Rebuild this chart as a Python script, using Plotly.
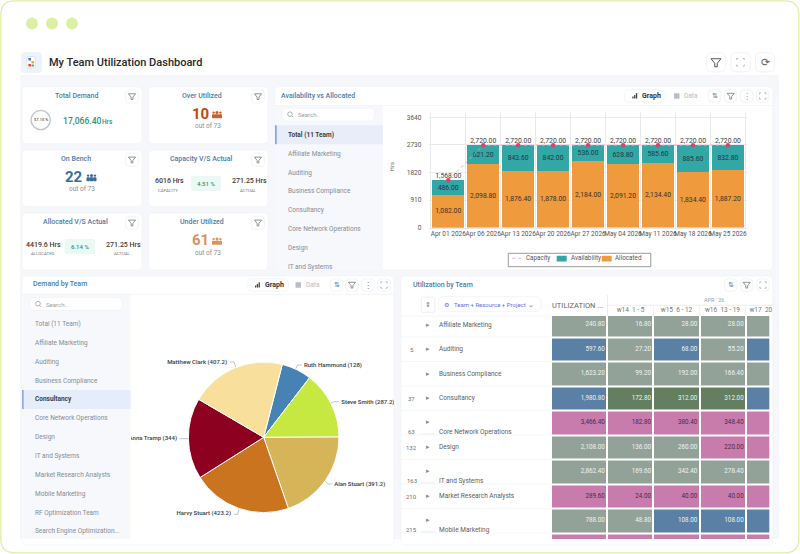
import plotly.graph_objects as go

# ---------- data ----------
week_starts = ["Apr 01 2026", "Apr 06 2026", "Apr 13 2026", "Apr 20 2026", "Apr 27 2026",
               "May 04 2026", "May 11 2026", "May 18 2026", "May 25 2026"]
capacity = [1568, 2720, 2720, 2720, 2720, 2720, 2720, 2720, 2720]
availability = [486.00, 621.20, 843.60, 842.00, 536.00, 628.80, 585.60, 885.60, 832.80]
allocated = [1082.00, 2098.80, 1876.40, 1878.00, 2184.00, 2091.20, 2134.40, 1834.40, 1887.20]
y_ticks = [0, 910, 1820, 2730, 3640]

list_top = ["Total (11 Team)", "Affiliate Marketing", "Auditing", "Business Compliance", "Consultancy",
            "Core Network Operations", "Design", "IT and Systems"]
list_demand = ["Total (11 Team)", "Affiliate Marketing", "Auditing", "Business Compliance", "Consultancy",
               "Core Network Operations", "Design", "IT and Systems", "Market Research Analysts",
               "Mobile Marketing", "RF Optimization Team", "Search Engine Optimization..."]

pie_names = ["Ruth Hammond", "Steve Smith", "Alan Stuart", "Harvy Stuart", "Anna Tramp", "Matthew Clark"]
pie_values = [128, 287.2, 391.2, 423.2, 344, 407.2]
pie_colors = ["#4682B4", "#C6E941", "#D5B557", "#CB7420", "#8E0020", "#F8E09C"]

util_teams = ["Affiliate Marketing", "Auditing", "Business Compliance", "Consultancy", "Core Network Operations",
              "Design", "IT and Systems", "Market Research Analysts", "Mobile Marketing", ""]
util_counts = ["", "5", "", "37", "63", "132", "163", "210", "215", ""]
util_total = [240.80, 597.60, 1623.20, 1980.80, 3466.40, 2108.00, 2862.40, 289.60, 788.00, None]
util_w14 = [16.80, 27.20, 99.20, 172.80, 182.80, 136.00, 169.60, 24.00, 48.80, None]
util_w15 = [28.00, 68.00, 192.00, 312.00, 380.40, 260.00, 342.40, 40.00, 108.00, None]
util_w16 = [28.00, 55.20, 166.40, 312.00, 348.40, 220.00, 278.40, 40.00, 108.00, None]
util_w17 = [28.00, 55.20, 166.40, 312.00, 348.40, 220.00, 278.40, 40.00, 108.00, None]
# 0 grey, 1 blue, 2 green, 3 pink
band_total = [0, 1, 0, 1, 3, 0, 0, 3, 0, 3]
band_w14 = [0, 0, 0, 2, 3, 0, 0, 3, 0, 3]
band_w15 = [0, 1, 0, 2, 3, 0, 0, 3, 1, 3]
band_w16 = [0, 0, 0, 2, 3, 3, 0, 3, 1, 3]
band_w17 = [0, 1, 0, 1, 3, 3, 0, 3, 1, 3]
week_heads = ["w14  1 - 5", "w15  6 - 12", "w16  13 - 19", "w17  20 - 26"]

# ---------- page helpers (pixel -> paper) ----------
W, H = 800, 554
FONT = "Roboto, 'Noto Sans', sans-serif"
X = lambda x: x / W
Y = lambda y: 1 - y / H
shapes, notes = [], []


def P(x, y):
    return f"{X(x):.5f},{Y(y):.5f}"


def rrect(x0, y0, x1, y1, r=4, fill="white", line=None, lw=0.8, dash=None):
    d = (f"M{P(x0 + r, y0)} L{P(x1 - r, y0)} Q{P(x1, y0)} {P(x1, y0 + r)} L{P(x1, y1 - r)} "
         f"Q{P(x1, y1)} {P(x1 - r, y1)} L{P(x0 + r, y1)} Q{P(x0, y1)} {P(x0, y1 - r)} L{P(x0, y0 + r)} "
         f"Q{P(x0, y0)} {P(x0 + r, y0)} Z")
    s = dict(type="path", xref="paper", yref="paper", path=d, layer="below",
             fillcolor=fill if fill else "rgba(0,0,0,0)",
             line=dict(color=line if line else "rgba(0,0,0,0)", width=lw if line else 0))
    if dash:
        s["line"]["dash"] = dash
    shapes.append(s)


def poly(pts, fill=None, line=None, lw=0.8, close=True, dash=None):
    d = "M" + " L".join(P(*p) for p in pts) + (" Z" if close else "")
    s = dict(type="path", xref="paper", yref="paper", path=d, layer="below",
             fillcolor=fill if fill else "rgba(0,0,0,0)",
             line=dict(color=line if line else "rgba(0,0,0,0)", width=lw if line else 0))
    if dash:
        s["line"]["dash"] = dash
    shapes.append(s)


def circ(cx, cy, r, fill=None, line=None, lw=0.8):
    shapes.append(dict(type="circle", xref="paper", yref="paper", layer="below",
                       x0=X(cx - r), x1=X(cx + r), y0=Y(cy + r), y1=Y(cy - r),
                       fillcolor=fill if fill else "rgba(0,0,0,0)",
                       line=dict(color=line if line else "rgba(0,0,0,0)", width=lw if line else 0)))


def T(x, y, text, size=7, color="#555", anchor="center", weight=400, family=FONT, angle=0):
    notes.append(dict(x=X(x), y=Y(y), xref="paper", yref="paper", text=text, showarrow=False,
                      xanchor=anchor, yanchor="middle", borderpad=0, textangle=angle,
                      font=dict(size=size, color=color, family=family, weight=weight)))


def funnel(cx, cy, s=1.0, color="#777", lw=0.8):
    poly([(cx - 4 * s, cy - 3 * s), (cx + 4 * s, cy - 3 * s), (cx + 1 * s, cy + 0.6 * s),
          (cx + 1 * s, cy + 3.4 * s), (cx - 1 * s, cy + 3.4 * s), (cx - 1 * s, cy + 0.6 * s)], line=color, lw=lw)


def btn(cx, cy, size=13, r=4):
    rrect(cx - size / 2, cy - size / 2, cx + size / 2, cy + size / 2, r=r, fill="white", line="#ECEEF2", lw=0.7)


def expand(cx, cy, a=3.2, color="#9A9FA8"):
    for sx, sy in ((-1, -1), (1, -1), (1, 1), (-1, 1)):
        poly([(cx + sx * a, cy + sy * (a - 1.5)), (cx + sx * a, cy + sy * a), (cx + sx * (a - 1.5), cy + sy * a)],
             line=color, lw=0.7, close=False)


def people(cx, cy, color, s=1.0):
    for dx, r in ((-3.4, 1.2), (3.4, 1.2), (0, 1.5)):
        circ(cx + dx * s, cy - 2.4 * s, r * s, fill=color)
    for dx, hw in ((-3.4, 1.6), (3.4, 1.6), (0, 2.2)):
        rrect(cx + (dx - hw) * s, cy - 0.7 * s, cx + (dx + hw) * s, cy + 3.2 * s, r=0.8 * s, fill=color)


def search(x0, y0, x1, y1):
    rrect(x0, y0, x1, y1, r=5, fill="white", line="#EEF0F5", lw=0.7)
    circ(x0 + 8, (y0 + y1) / 2 - 0.3, 2.3, line="#8C929C", lw=0.7)
    poly([(x0 + 9.7, (y0 + y1) / 2 + 1.4), (x0 + 11.2, (y0 + y1) / 2 + 2.9)], line="#8C929C", lw=0.7, close=False)
    T(x0 + 15, (y0 + y1) / 2, "Search..", 6, "#9AA0AA", "left")


def view_tabs(x0, cy, data_x):
    rrect(x0, cy - 6.2, x0 + 41.5, cy + 6.2, r=6, fill="white", line="#EDEFF4", lw=0.7)
    for i, h in enumerate((2.0, 3.6, 5.2)):
        rrect(x0 + 8 + i * 1.8, cy + 2.5 - h, x0 + 9.3 + i * 1.8, cy + 2.5, r=0.2, fill="#444")
    T(x0 + 16.5, cy, "Graph", 7, "#333", "left", 700)
    rrect(data_x, cy - 2.8, data_x + 5.5, cy + 2.8, r=0.5, fill="#B8BEC8")
    T(data_x + 9, cy, "Data", 6.5, "#B5BAC3", "left")


def list_panel(names, x0, x1, y0, pitch, selected, bar_color, band, weight=400):
    for i, n in enumerate(names):
        yy = y0 + i * pitch
        if i == selected:
            rrect(x0, yy - 9.5, x1, yy + 9.5, r=0.01, fill=band)
            poly([(x0 + 0.5, yy - 9.5), (x0 + 0.5, yy + 9.5)], line=bar_color, lw=1.1, close=False)
        T(x0 + 11.5, yy, n, 6.5, "#3C3F45" if i == selected else "#878C95", "left", 700 if i == selected else 400)


# ---------- page chrome ----------
rrect(0.8, 0.8, 798.8, 552.8, r=14, fill="white", line="#DFF0A9", lw=1.3)
for cx in (32, 52, 72):
    circ(cx, 23.5, 6, fill="#DCEFA3")
rrect(21, 52, 42, 73, r=4, fill="#EEF3FB")
rrect(27, 56.5, 35, 68, r=0.5, fill="#FFFFFF", line="#C9CED6", lw=0.5)
rrect(28.5, 58, 31, 60.5, r=0.2, fill="#3A76C4")
rrect(31.5, 61, 34, 63.5, r=0.2, fill="#E6B422")
rrect(28.5, 64, 31, 66.5, r=0.2, fill="#D9483B")
rrect(31.5, 64.5, 34, 66.5, r=0.2, fill="#5FA85A")
T(47.5, 62.5, "My Team Utilization Dashboard", 11, "#26282C", "left", 500)
for cx in (716, 740.5, 765):
    btn(cx, 62.3, 19, 5)
funnel(716, 62.5, 1.25, "#555", 1)
expand(740.5, 62.3, 3.8)
T(765, 62, "⟳", 11, "#666", family="DejaVu Sans")
rrect(20, 75, 779, 539, r=0.01, fill="#F5F7FA")

# ---------- KPI cards ----------
HEAD = "#4C7CA8"
TEAL = "#2F8F84"


def card(x0, y0, x1, y1, title, tx):
    rrect(x0, y0, x1, y1, r=5, fill="white", line="#F0F2F6", lw=0.6)
    T(tx, y0 + 8.8, title, 7, HEAD, "center", 500)
    btn(x1 - 10, y0 + 9.8, 13, 4)
    funnel(x1 - 10, y0 + 9.8, 0.9)


card(22, 86.7, 142, 143.7, "Total Demand", 76)
circ(40.7, 120, 9.6, line="#BFC4C8", lw=1.4)
T(40.7, 120, "57.15 %", 4, "#555", weight=500)
T(61.5, 121, "17,066.40", 8.6, TEAL, "left", 500)
T(101.5, 121.5, "Hrs", 6.5, TEAL, "left", 500)

card(148.5, 86.7, 268, 143.7, "Over Utilized", 201.5)
T(200, 114, "10", 15, "#C8450D", "center", 700)
people(217, 115, "#C8602A")
T(208, 126, "out of 73", 6.5, "#8C9096")

card(22, 150, 142, 206.5, "On Bench", 75.5)
T(74, 177, "22", 15, "#3B6D94", "center", 700)
people(91.5, 178, "#3B6D94")
T(82, 189, "out of 73", 6.5, "#8C9096")

card(148.5, 150, 268, 206.5, "Capacity V/S Actual", 201.5)
T(169.5, 181, "6016 Hrs", 7, "#3A3C40", weight=500)
T(168, 190, "CAPACITY", 4.3, "#777")
rrect(191, 176, 221, 191, r=2, fill="#EAF9F3")
T(206, 183.5, "4.51 %", 6, TEAL, weight=500)
T(249.5, 181, "271.25 Hrs", 7, "#3A3C40", weight=500)
T(248.5, 190, "ACTUAL", 4.3, "#777")

card(22, 213, 142, 270, "Allocated V/S Actual", 75.5)
T(43.7, 244.7, "4419.6 Hrs", 7, "#3A3C40", weight=500)
T(42.5, 253, "ALLOCATED", 4.3, "#777")
rrect(64.5, 239, 95, 254, r=2, fill="#EAF9F3")
T(79.7, 246.5, "6.14 %", 6, TEAL, weight=500)
T(123.5, 244.7, "271.25 Hrs", 7, "#3A3C40", weight=500)
T(122.5, 253, "ACTUAL", 4.3, "#777")

card(148.5, 213, 268, 270, "Under Utilized", 201.5)
T(200, 240.5, "61", 15, "#DD9358", "center", 700)
people(217, 241.5, "#DD9358")
T(208, 253, "out of 73", 6.5, "#8C9096")

# ---------- Availability panel ----------
rrect(275, 86.5, 772.7, 270, r=5, fill="white", line="#F0F2F6", lw=0.6)
rrect(275.4, 105.5, 383, 269.7, r=0.01, fill="#F6F8FC")
poly([(275, 105.5), (772.7, 105.5)], line="#EEF0F4", lw=0.7, close=False)
T(279.5, 96, "Availability vs Allocated", 7, HEAD, "left", 500)
search(282, 108, 374.5, 121)
list_panel(list_top, 275.4, 383, 134.8, 18.85, 0, "#4B78E6", "#E8EEF9")
view_tabs(624.3, 96, 674)
for cx, kind in ((714.7, "sort"), (730.7, "f"), (746.7, "k"), (762.7, "e")):
    btn(cx, 96, 12.5, 4)
    if kind == "sort":
        T(cx, 96, "⇅", 7, "#777", family="DejaVu Sans")
    elif kind == "f":
        funnel(cx, 96, 0.9)
    elif kind == "k":
        T(cx, 96, "⋮", 8, "#999", family="DejaVu Sans")
    else:
        expand(cx, 96)
T(391.7, 166.7, "Hrs", 6, "#666", angle=-90)

# hand-set legend box, tighter than the library's own legend allows
rrect(508.3, 253.3, 650.7, 266.7, r=0.01, fill="white", line="#8E8E8E", lw=0.9)
poly([(512.3, 258.3), (523.3, 258.3)], line="#E8A2B6", lw=0.8, close=False, dash="dot")
T(525.3, 258.3, "Capacity", 6.3, "#555", "left")
rrect(556.7, 255.8, 566.7, 261.6, r=0.3, fill="#33A6A6")
T(570, 258.3, "Availability", 6.3, "#555", "left")
rrect(601.7, 255.8, 611.7, 261.6, r=0.3, fill="#F09A3E")
T(614, 258.3, "Allocated", 6.3, "#555", "left")

# ---------- Demand panel ----------
rrect(22, 276, 394, 545, r=5, fill="white", line="#F0F2F6", lw=0.6)
rrect(22.4, 294.3, 130.5, 539, r=0.01, fill="#F6F8FC")
poly([(22, 294.3), (394, 294.3)], line="#EEF0F4", lw=0.7, close=False)
T(31.5, 284, "Demand by Team", 7, HEAD, "left", 500)
search(30, 297.5, 122, 310.5)
list_panel(list_demand, 22.4, 130.5, 324, 18.85, 4, "#6F80E0", "#E6EDFA")
view_tabs(247, 285, 295.5)
for cx, kind in ((336.5, "sort"), (352, "f"), (368, "k"), (384, "e")):
    btn(cx, 285, 12.5, 4)
    if kind == "sort":
        T(cx, 285, "⇅", 7, "#777", family="DejaVu Sans")
    elif kind == "f":
        funnel(cx, 285, 0.9)
    elif kind == "k":
        T(cx, 285, "⋮", 8, "#777", family="DejaVu Sans")
    else:
        expand(cx, 285)

# ---------- Utilization panel ----------
rrect(401, 276, 772.7, 545, r=5, fill="white", line="#F0F2F6", lw=0.6)
T(412, 285, "Utilization by Team", 7, HEAD, "left", 500)
for cx, kind in ((730.7, "sort"), (746.7, "f"), (763, "e")):
    btn(cx, 285, 12.5, 4)
    if kind == "sort":
        T(cx, 285, "⇅", 7, "#777", family="DejaVu Sans")
    elif kind == "f":
        funnel(cx, 285, 0.9)
    else:
        expand(cx, 285)
rrect(421.3, 297.3, 434.8, 312.3, r=1, fill="white", line="#E6E8EC", lw=0.7)
T(428, 304.5, "⇕", 7, "#777", family="DejaVu Sans")
rrect(438.5, 296.7, 541, 311.5, r=5, fill="white", line="#EEF0F8", lw=0.7)
T(446.5, 304.2, "⚙", 6, "#5F74E6", family="DejaVu Sans")
T(452.5, 304.2, "Team + Resource + Project", 6, "#5F74E6", "left")
T(530.5, 304.5, "⌄", 7, "#5F74E6", "center", family="DejaVu Sans")
T(577, 305, "UTILIZATION ...", 7.5, "#666")
poly([(607.5, 295), (607.5, 316)], line="#E3E5E9", lw=0.7, close=False)
poly([(607.5, 305.3), (772.7, 305.3)], line="#E3E5E9", lw=0.7, close=False)
for lx in (653.3, 699.7, 745.3):
    poly([(lx, 305.3), (lx, 316)], line="#E3E5E9", lw=0.7, close=False)
T(714, 299.7, "APR ' 26", 5.5, "#9A9EA6")
poly([(401, 316), (551, 316)], line="#EEF0F4", lw=0.6, close=False)

row_top, row_pitch = 312.5, 24.5
wrapped = {"Core Network Operations", "IT and Systems", "Mobile Marketing"}
for i, (team, num) in enumerate(zip(util_teams, util_counts)):
    cy = row_top + row_pitch * (i + 0.5)
    if not team:
        continue
    low = team in wrapped
    ty = cy + (9 if low else 0)
    T(427.5, cy - (1 if low else 0), "▸", 7, "#8A8E95", family="DejaVu Sans")
    T(438, ty, team, 6.5, "#5A5E64", "left")
    if num:
        T(411.5, ty, num, 6, "#6C7076")
    if low:
        poly([(420.7, cy + 11), (435, cy + 11)], line="#E2E4E8", lw=0.6, close=False)
    poly([(401, cy + row_pitch / 2), (551, cy + row_pitch / 2)], line="#F0F2F5", lw=0.7, close=False)

# ---------- figure ----------
fig = go.Figure()

# availability vs allocated chart
fig.add_trace(go.Bar(
    x=week_starts, y=allocated, name="Allocated", marker=dict(color="#F09A3E", line=dict(width=0)),
    text=[f"{v:,.2f}" for v in allocated], textposition="inside", insidetextanchor="middle", textangle=0,
    constraintext="none", textfont=dict(size=6.8, color="#3A3228", family=FONT)))
fig.add_trace(go.Bar(
    x=week_starts, y=availability, name="Availability", marker=dict(color="#33A6A6", line=dict(width=0)),
    text=[f"{v:,.2f}" for v in availability], textposition="inside", insidetextanchor="middle", textangle=0,
    constraintext="none", textfont=dict(size=6.8, color="#1F3A3E", family=FONT)))
fig.add_trace(go.Scatter(
    x=week_starts, y=capacity, name="Capacity", mode="lines+markers",
    line=dict(color="#E8A2B6", width=1, dash="dot"),
    marker=dict(color="#D2476F", size=4.5), cliponaxis=False))
# capacity labels sit almost on the markers in the reference
LABEL_LIFT = 118
fig.add_trace(go.Scatter(
    x=week_starts, y=[v + LABEL_LIFT for v in capacity], mode="text", showlegend=False, cliponaxis=False,
    text=[f"{v:,.2f}" for v in capacity], textposition="middle center",
    textfont=dict(size=6.8, color="#3C3C3C", family=FONT)))

# pie
fig.add_trace(go.Pie(
    labels=pie_names, values=pie_values, sort=False, direction="clockwise", rotation=14.3,
    marker=dict(colors=pie_colors, line=dict(color="white", width=1)), textinfo="none", showlegend=False,
    domain=dict(x=[X(188.4), X(339)], y=[Y(513), Y(361.7)])))

# pie leader lines and labels, clipped by the panel like the reference
label_spots = {"Ruth Hammond": (304, 365, "right"), "Steve Smith": (341.3, 402, "right"),
               "Alan Stuart": (334.3, 484.7, "right"), "Harvy Stuart": (231, 513.7, "left"),
               "Anna Tramp": (177, 438.7, "left"), "Matthew Clark": (227, 362.7, "left")}
leaders = [[(301.7, 365), (297.7, 365), (295, 370)], [(339, 401.7), (334, 401.7), (327.3, 405)],
           [(331.7, 484), (328.3, 484), (321.7, 478.3)], [(234, 514.3), (237.7, 514.3), (240, 504.3)],
           [(179.3, 438.7), (192.3, 438.7)], [(230, 362), (234, 362), (237, 371)]]
lx, ly = [], []
for seg in leaders:
    lx += [p[0] for p in seg] + [None]
    ly += [p[1] for p in seg] + [None]
fig.add_trace(go.Scatter(x=lx, y=ly, mode="lines", xaxis="x3", yaxis="y3", showlegend=False,
                         line=dict(color="#9A9A9A", width=0.6)))
fig.add_trace(go.Scatter(
    x=[label_spots[n][0] for n in pie_names], y=[label_spots[n][1] for n in pie_names],
    text=[f"{n} ({v:g})" for n, v in zip(pie_names, pie_values)],
    textposition=[f"middle {label_spots[n][2]}" for n in pie_names], mode="text", xaxis="x3", yaxis="y3",
    showlegend=False, textfont=dict(size=6, color="#3A3A3A", family=FONT, weight=500), cliponaxis=True))

# utilization grid
col_edges = [0, 56, 102.3, 148.6, 194.9, 241.2]
columns = [util_total, util_w14, util_w15, util_w16, util_w17]
bands = [band_total, band_w14, band_w15, band_w16, band_w17]
z = [[b[r] for b in bands] for r in range(len(util_teams))]
c = ["#93A299", "#5A80A6", "#647E60", "#C77CAD"]
fig.add_trace(go.Heatmap(
    z=z, x=col_edges, y=list(range(len(util_teams) + 1)), zmin=0, zmax=3, showscale=False, xgap=2, ygap=2,
    xaxis="x2", yaxis="y2", hoverinfo="skip",
    colorscale=[[0, c[0]], [.25, c[0]], [.25, c[1]], [.5, c[1]], [.5, c[2]], [.75, c[2]], [.75, c[3]], [1, c[3]]]))
for j, col in enumerate(columns):
    rows = [r for r, v in enumerate(col) if v is not None]
    fig.add_trace(go.Scatter(
        x=[col_edges[j + 1] - 2.2] * len(rows), y=[r + 0.5 for r in rows],
        text=[f"{col[r]:,.2f}" for r in rows], mode="text", textposition="middle left", xaxis="x2", yaxis="y2",
        showlegend=False, cliponaxis=True,
        textfont=dict(size=6.3, family=FONT, color=["#4E2748" if bands[j][r] == 3 else "#EEF2EF" for r in rows])))

# week headers, clipped at the panel edge
fig.add_trace(go.Scatter(
    x=[630.5, 676.5, 722.5, 767], y=[310.7] * 4, text=week_heads, mode="text", xaxis="x4", yaxis="y4",
    showlegend=False, cliponaxis=True, textposition="middle center",
    textfont=dict(size=6.5, color="#777", family=FONT)))

hidden = dict(visible=False, fixedrange=True, automargin=False)
fig.update_layout(
    width=W, height=H, margin=dict(l=0, r=0, t=0, b=0, pad=0, autoexpand=False), paper_bgcolor="white",
    plot_bgcolor="rgba(0,0,0,0)",
    barmode="stack", bargap=0.075, shapes=shapes, annotations=notes, font=dict(family=FONT),
    showlegend=False,
    xaxis=dict(domain=[X(429.4), X(746.8)], type="category", tickson="boundaries", showgrid=True, automargin=False,
               gridcolor="#E9EAEE", gridwidth=1, ticks="", tickfont=dict(size=6.5, color="#555", family=FONT),
               showline=True, linecolor="#E4E6EA", tickangle=0, anchor="y", fixedrange=True, ticklabelstandoff=-1),
    yaxis=dict(domain=[Y(227.7), Y(111.7)], range=[0, 3825], tickvals=y_ticks, showgrid=True, automargin=False,
               gridcolor="#E9EAEE", gridwidth=1, zeroline=False, ticks="", ticklen=0, ticklabelstandoff=7,
               tickfont=dict(size=6.5, color="#555", family=FONT), anchor="x", fixedrange=True),
    xaxis2=dict(domain=[X(551), X(769.3)], range=[0, 218.3], anchor="y2", **hidden),
    yaxis2=dict(domain=[Y(539), Y(316)], range=[(539 - 312.5) / 24.5, (316 - 312.5) / 24.5], anchor="x2", **hidden),
    xaxis3=dict(domain=[X(131), X(394)], range=[131, 394], anchor="y3", **hidden),
    yaxis3=dict(domain=[Y(539), Y(294.5)], range=[539, 294.5], anchor="x3", **hidden),
    xaxis4=dict(domain=[X(401), X(772.7)], range=[401, 772.7], anchor="y4", **hidden),
    yaxis4=dict(domain=[Y(539), Y(276)], range=[539, 276], anchor="x4", **hidden),
)

fig.write_html("out.html", config=dict(displayModeBar=False),
               post_script="document.body.style.margin='0';document.body.style.overflow='hidden';")
